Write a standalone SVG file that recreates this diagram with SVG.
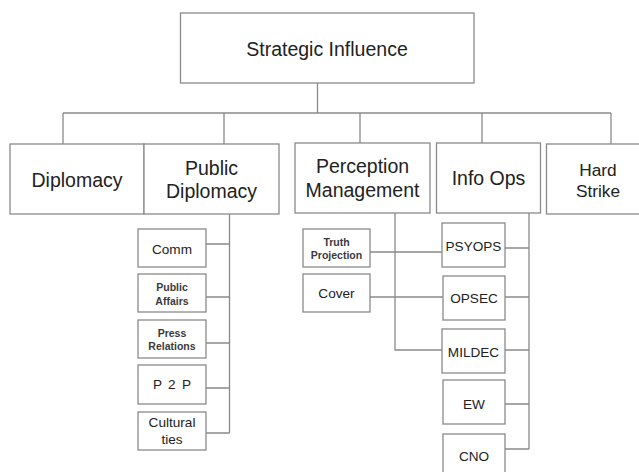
<svg xmlns="http://www.w3.org/2000/svg" width="639" height="472" viewBox="0 0 639 472">
<style>
rect{fill:#fff;stroke:#8a8a8a;stroke-width:1.3}
.c{fill:none;stroke:#8a8a8a;stroke-width:1.3}
text{font-family:"Liberation Sans",Arial,sans-serif;fill:#222;text-anchor:middle}
.l{font-size:19.5px}
.h{font-size:17.3px}
.m{font-size:13.6px}
.s{font-size:10.5px;font-weight:bold;fill:#3a3a3a}
</style>
<rect x="0" y="0" width="639" height="472" style="stroke:none"/>
<g id="connectors" class="c">
<path d="M317.5 83V113M63 113H611M63 113V144M224 113V144M360 113V143M482 113V143M611 113V144"/>
<path d="M229.5 214V433M206 244H229.5M206 297H229.5M206 343H229.5M206 388H229.5M206 433H229.5"/>
<path d="M395 213V350H442M370 252H442M370 297H443"/>
<path d="M529 213V449M505 248H529M505 297H529M505 350H529M505 404H529M505 449H529"/>
</g>
<g id="strategic"><rect x="180.5" y="13" width="293.5" height="70"/><text class="l" x="327" y="55.5">Strategic Influence</text></g>
<g id="diplomacy"><rect x="10" y="144" width="134" height="70"/><text class="l" x="77" y="187">Diplomacy</text></g>
<g id="public-diplomacy"><rect x="144" y="144" width="135" height="70"/><text class="l" x="211.5" y="175">Public</text><text class="l" x="211.5" y="198">Diplomacy</text></g>
<g id="perception"><rect x="295" y="143" width="135" height="70"/><text class="l" x="362.5" y="173">Perception</text><text class="l" x="362.5" y="197">Management</text></g>
<g id="infoops"><rect x="436.5" y="143" width="104" height="70"/><text class="l" x="488.5" y="185">Info Ops</text></g>
<g id="hardstrike"><rect x="546.5" y="144" width="104" height="70"/><text class="h" x="598" y="176">Hard</text><text class="h" x="598" y="196.5">Strike</text></g>
<g id="comm"><rect x="138" y="229" width="68" height="38"/><text class="m" x="172" y="254">Comm</text></g>
<g id="public-affairs"><rect x="138" y="274" width="68" height="38"/><text class="s" x="172" y="291">Public</text><text class="s" x="172" y="305">Affairs</text></g>
<g id="press-relations"><rect x="138" y="320" width="68" height="38"/><text class="s" x="172" y="336.5">Press</text><text class="s" x="172" y="350">Relations</text></g>
<g id="p2p"><rect x="138" y="365" width="68" height="39"/><text class="m" x="172" y="389" style="word-spacing:2.5px">P 2 P</text></g>
<g id="cultural-ties"><rect x="138" y="412" width="68" height="38"/><text class="m" x="172" y="426.5">Cultural</text><text class="m" x="172" y="443.5">ties</text></g>
<g id="truth-projection"><rect x="303" y="229" width="67" height="38"/><text class="s" x="336.5" y="245.5">Truth</text><text class="s" x="336.5" y="258.5">Projection</text></g>
<g id="cover"><rect x="303" y="274" width="67" height="38"/><text class="m" x="336.5" y="298">Cover</text></g>
<g id="psyops"><rect x="442" y="223" width="63" height="44"/><text class="m" x="473.5" y="250.5">PSYOPS</text></g>
<g id="opsec"><rect x="443" y="276" width="62" height="44"/><text class="m" x="474" y="303">OPSEC</text></g>
<g id="mildec"><rect x="442" y="329" width="63" height="44"/><text class="m" x="473.5" y="356.5">MILDEC</text></g>
<g id="ew"><rect x="443" y="380" width="62" height="44"/><text class="m" x="474" y="408.5">EW</text></g>
<g id="cno"><rect x="443" y="434" width="62" height="44"/><text class="m" x="474" y="461">CNO</text></g>
</svg>
